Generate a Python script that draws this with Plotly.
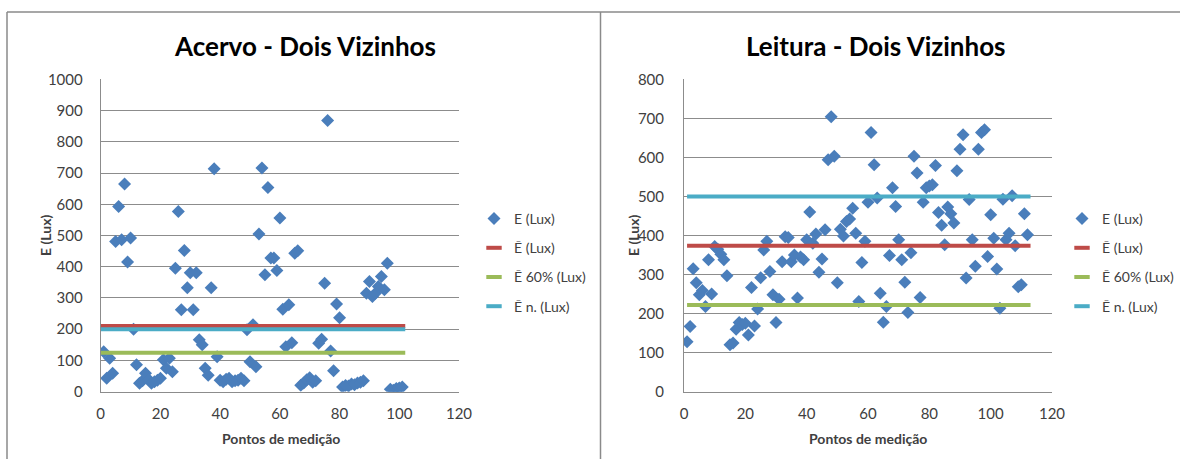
import plotly.graph_objects as go

# ---------------- data ----------------
acervo_E = [128, 43, 107, 59, 481, 593, 486, 665, 415, 492,
            200, 86, 27, 35, 59, 40, 27, 32, 37, 43,
            102, 75, 107, 64, 395, 577, 262, 452, 333, 381,
            262, 381, 166, 150, 75, 53, 333, 714, 112, 37,
            32, 40, 43, 32, 35, 37, 43, 35, 198, 96,
            214, 80, 505, 716, 374, 654, 428, 428, 388, 556,
            264, 144, 278, 157, 443, 451, 21, 28, 38, 45,
            30, 35, 155, 168, 347, 868, 130, 67, 281, 237,
            15, 20, 18, 25, 22, 28, 30, 35, 315, 353,
            305, 315, 337, 369, 326, 411, 8, 5, 10, 12, 15]
acervo_mean = 210
acervo_60 = 125
acervo_norm = 200
acervo_line_x = [0, 102]

leitura_E = [128, 167, 315, 279, 248, 259, 218, 338, 250, 372,
             365, 352, 338, 297, 120, 125, 160, 177, 172, 175,
             145, 267, 168, 212, 292, 363, 385, 308, 248, 177,
             237, 333, 397, 395, 333, 350, 240, 345, 338, 389,
             460, 380, 404, 306, 340, 415, 594, 704, 603, 279,
             416, 399, 436, 442, 470, 406, 231, 331, 385, 485,
             664, 581, 496, 252, 178, 218, 349, 522, 474, 389,
             338, 280, 203, 356, 603, 560, 241, 485, 522, 527,
             530, 579, 459, 426, 376, 473, 456, 432, 566, 621,
             658, 291, 492, 389, 321, 621, 664, 671, 346, 453,
             393, 314, 214, 493, 389, 406, 502, 374, 269, 274,
             456, 402]
leitura_mean = 374
leitura_60 = 222
leitura_norm = 500
leitura_line_x = [1, 113]

titles = ["Acervo - Dois Vizinhos", "Leitura - Dois Vizinhos"]
x_title = "Pontos de medição"
y_title = "E (Lux)"
names = ["E (Lux)", "Ē (Lux)", "Ē 60% (Lux)", "Ē n. (Lux)"]

# ---------------- style ----------------
FONT = "Lato, 'Open Sans', sans-serif"
BLUE = "#4A7EBB"
RED = "#BE4B48"
GREEN = "#9BBB59"
CYAN = "#4BACC6"
GRID = "#8C8C8C"
TXT = "#404040"

W, H = 1180, 459


def px(x):
    return x / W


def py(y):
    return (H - y) / H


fig = go.Figure()


def add_panel(E, mean, p60, norm, line_x, xa, ya, legend):
    xs = list(range(1, len(E) + 1))
    fig.add_trace(go.Scatter(
        x=xs, y=E, mode="markers", name=names[0], xaxis=xa, yaxis=ya,
        legend=legend, legendgroup=legend + "a",
        marker=dict(symbol="diamond", size=10, color=BLUE,
                    line=dict(width=0))))
    for nm, v, c, g in [(names[1], mean, RED, "b"),
                        (names[2], p60, GREEN, "c"),
                        (names[3], norm, CYAN, "d")]:
        # the horizontal reference line
        fig.add_trace(go.Scatter(
            x=line_x, y=[v, v], mode="lines", name=nm, xaxis=xa, yaxis=ya,
            legend=legend, legendgroup=legend + g, showlegend=False,
            line=dict(color=c, width=4)))
        # legend-only entry with a short dash symbol (Excel style)
        fig.add_trace(go.Scatter(
            x=[None], y=[None], mode="markers", name=nm, xaxis=xa, yaxis=ya,
            legend=legend, legendgroup=legend + g,
            marker=dict(symbol="line-ew", size=11, color=c,
                        line=dict(color=c, width=4))))


add_panel(acervo_E, acervo_mean, acervo_60, acervo_norm, acervo_line_x,
          "x", "y", "legend")
add_panel(leitura_E, leitura_mean, leitura_60, leitura_norm, leitura_line_x,
          "x2", "y2", "legend2")

ydom = [py(391.7), py(79.3)]
axis_common = dict(showline=True, linecolor=GRID, linewidth=1,
                   showgrid=True, gridcolor=GRID, gridwidth=1,
                   zeroline=False, ticks="", automargin=False,
                   tickfont=dict(family=FONT, size=15, color=TXT),
                   fixedrange=True)

fig.update_layout(
    xaxis=dict(domain=[px(100.7), px(459)], range=[0, 120], dtick=20,
               anchor="y", ticklabelstandoff=8,
               **{**axis_common, "showgrid": False}),
    yaxis=dict(domain=ydom, range=[0, 1000], dtick=100, anchor="x",
               ticklabelstandoff=14, **axis_common),
    xaxis2=dict(domain=[px(684), px(1052)], range=[0, 120], dtick=20,
                anchor="y2", ticklabelstandoff=8,
                **{**axis_common, "showgrid": False}),
    yaxis2=dict(domain=ydom, range=[0, 800], dtick=100, anchor="x2",
                ticklabelstandoff=16, **axis_common),
)

legend_common = dict(font=dict(family=FONT, size=14, color=TXT),
                     bgcolor="rgba(0,0,0,0)", tracegroupgap=8,
                     itemwidth=30, xanchor="left", yanchor="top",
                     traceorder="grouped")
fig.update_layout(
    legend=dict(x=px(474), y=py(203), **legend_common),
    legend2=dict(x=px(1062), y=py(203), **legend_common),
    showlegend=True,
)

annotations = [
    dict(text="<b>" + titles[0] + "</b>", x=px(305), y=py(46),
         font=dict(family=FONT, size=26, color="#000000")),
    dict(text="<b>" + titles[1] + "</b>", x=px(876), y=py(46),
         font=dict(family=FONT, size=26, color="#000000")),
    dict(text="<b>" + x_title + "</b>", x=px(280.5), y=py(438),
         font=dict(family=FONT, size=14, color=TXT)),
    dict(text="<b>" + x_title + "</b>", x=px(868), y=py(438),
         font=dict(family=FONT, size=14, color=TXT)),
    dict(text="<b>" + y_title + "</b>", x=px(45), y=py(236), textangle=-90,
         font=dict(family=FONT, size=14, color=TXT)),
    dict(text="<b>" + y_title + "</b>", x=px(633), y=py(236), textangle=-90,
         font=dict(family=FONT, size=14, color=TXT)),
]
for a in annotations:
    a.update(xref="paper", yref="paper", showarrow=False,
             xanchor="center", yanchor="middle")
fig.update_layout(annotations=annotations)

border = "#8A8A8A"
shapes = [
    dict(type="line", x0=px(7), x1=px(7), y0=py(12), y1=0),
    dict(type="line", x0=px(7), x1=1, y0=py(12), y1=py(12)),
    dict(type="line", x0=px(600.5), x1=px(600.5), y0=py(12), y1=0),
]
for s in shapes:
    s.update(xref="paper", yref="paper", line=dict(color=border, width=1.5),
             layer="above")
fig.update_layout(shapes=shapes)

fig.update_layout(width=W, height=H, autosize=False,
                  margin=dict(l=0, r=0, t=0, b=0, pad=0, autoexpand=False),
                  paper_bgcolor="white", plot_bgcolor="white",
                  font=dict(family=FONT))

fig.write_html("out.html", config={"displayModeBar": False},
               post_script="document.body.style.margin='0';"
                           "document.body.style.overflow='hidden';")
